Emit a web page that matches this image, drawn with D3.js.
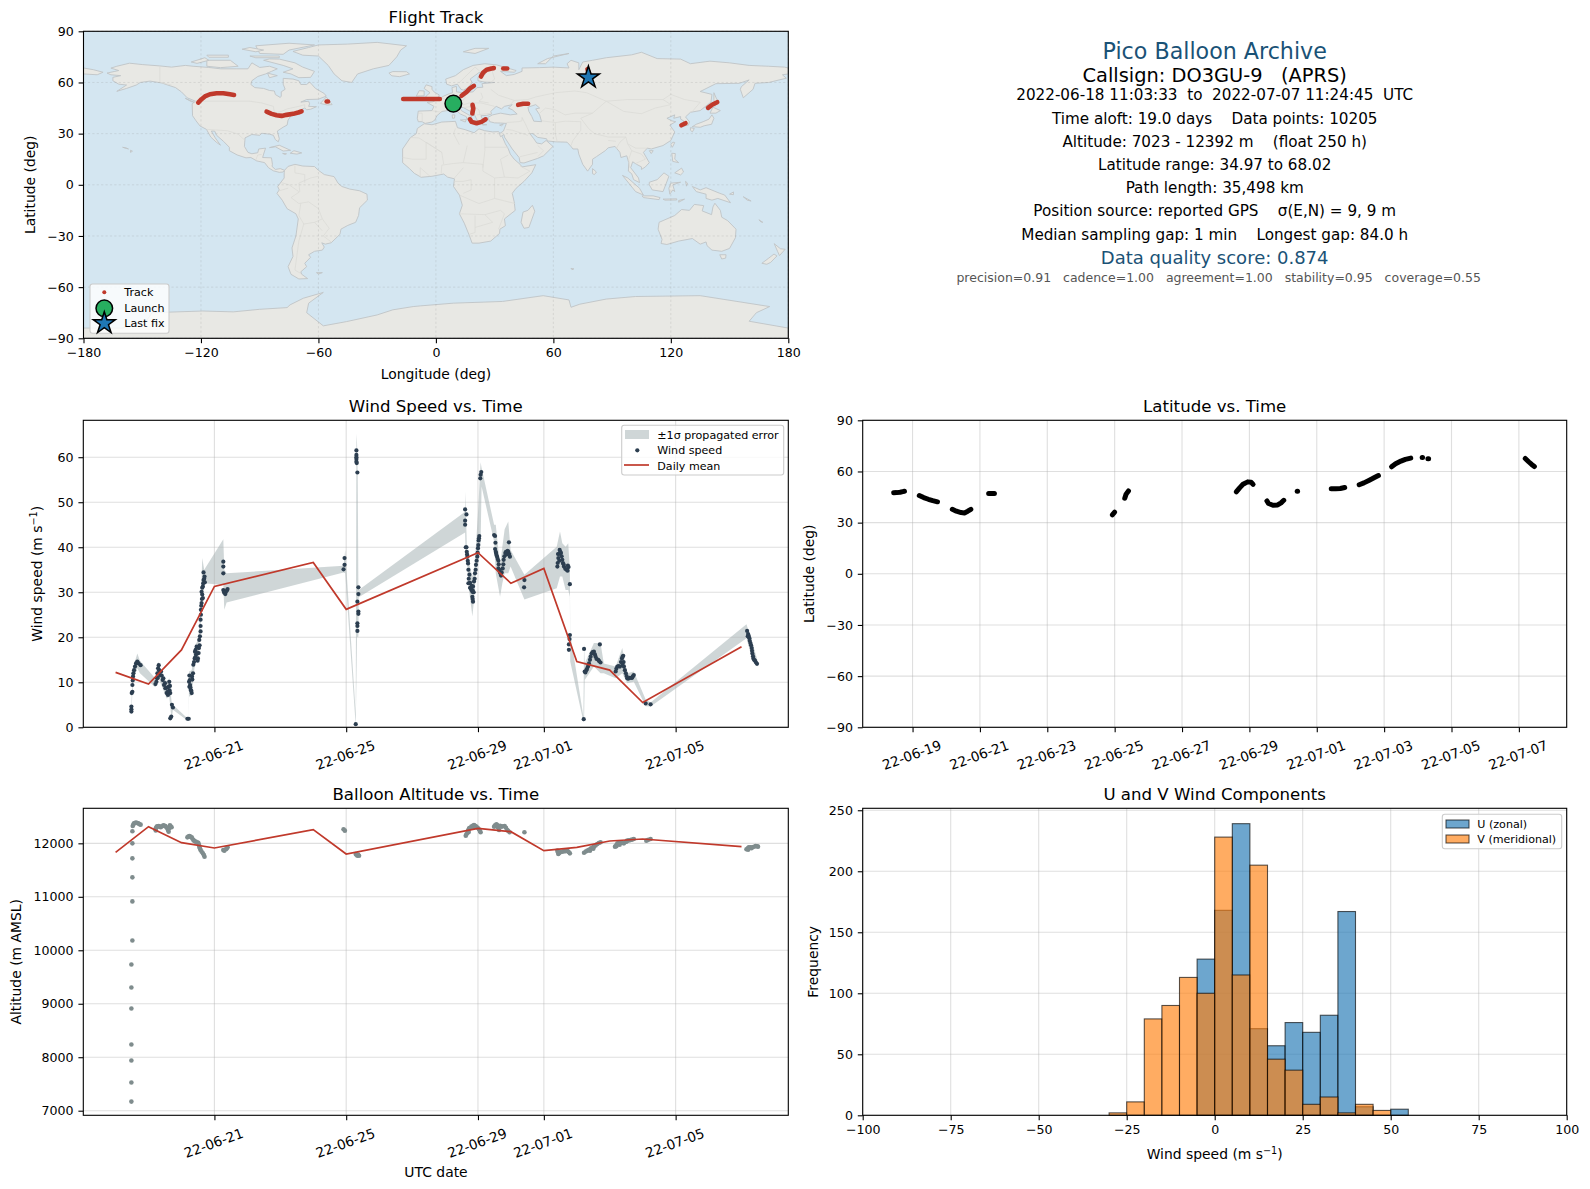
<!DOCTYPE html>
<html>
<head>
<meta charset="utf-8">
<script src="https://cdn.jsdelivr.net/npm/d3@7"></script>
<style>
  body { margin: 0; background: #fff; }
  text { font-family: "DejaVu Sans", sans-serif; fill: #000; white-space: pre; }
  .domain { display: none; }
  .tick line { stroke: #000; stroke-width: 1.1; }
</style>
</head>
<body>
<svg id="chart" width="1590" height="1189"></svg>
<script>
// ---- coastline, rough lon/lat outlines ----
const northAmerica = [[-168,65.5],[-164,66.5],[-162,67],[-166,68.4],[-163,69.5],[-156.5,71.3],[-150,70.5],[-141,69.7],[-135,69],[-128,70],[-124,69.5],[-116,68.8],[-110,68],[-102,68],[-96,68],[-94,71.5],[-90,68.8],[-85,69.5],[-81,68],[-84,66.5],[-87,65],[-91,63.5],[-94,61],[-94.5,58.8],[-92.5,57],[-88,56.5],[-85,55.3],[-82.5,55],[-82,52.9],[-79.5,51.2],[-79,52],[-79,54.5],[-77,56],[-78,59],[-78,62.4],[-73,62],[-70,61],[-69,58.8],[-66,58.8],[-64.5,60.3],[-61.5,56.5],[-57,53.5],[-56,52],[-60,50.2],[-66,50],[-69,48.5],[-65,49],[-64.5,47.5],[-65,46],[-61,45.8],[-64,44.3],[-66,44],[-67,45],[-70,43.5],[-70.5,41.7],[-74,40.5],[-75.5,38],[-76,35],[-78,33.8],[-81,31.5],[-80,27],[-80.5,25.2],[-82,26.5],[-83,29],[-85,29.7],[-89,30.2],[-90,29],[-94,29.5],[-97.5,27.5],[-97.8,22.5],[-96,19],[-94,18.2],[-91,18.8],[-90.5,21],[-87,21.5],[-88,18],[-88.5,16],[-84,15.8],[-83.5,12],[-83.7,10.8],[-82,9],[-79.5,9.5],[-77.3,8.5],[-78,7.5],[-80,7.3],[-83,8.2],[-85.5,10],[-87.5,13],[-91.5,14],[-94.5,16],[-97,15.8],[-101.5,17.5],[-105.5,20],[-105.5,22],[-108.5,25.5],[-112,29],[-113,31.5],[-114.7,31.5],[-112.7,27.5],[-110,23.2],[-112.2,25],[-115,28],[-117.2,32.5],[-120.5,34.5],[-122.5,37.5],[-124.3,40.5],[-124.5,47.5],[-122.8,49],[-127,51],[-130,54.5],[-133,57],[-137,58.5],[-140,59.7],[-146,60.8],[-151,60],[-153,58.5],[-158,56.5],[-163,54.8],[-158,58.5],[-162,59],[-165,61],[-165,63],[-161,64],[-166,64.5]];
const southAmerica = [[-77.3,8.5],[-75.5,10.8],[-72,12],[-68,11],[-62,10.7],[-60,8.5],[-57,6],[-52,4.8],[-50,1],[-48,-1],[-44,-2.5],[-39,-3.5],[-35.2,-5.5],[-35,-9],[-39,-13.5],[-39.5,-18],[-41,-22],[-45,-23.8],[-48.5,-26],[-49,-29],[-53.5,-34],[-56.5,-34.8],[-58.3,-34],[-57,-36.5],[-58,-38.3],[-62,-39],[-65,-41],[-64,-42.5],[-67,-46],[-66,-48],[-69,-51],[-68.5,-52.5],[-65.5,-55],[-70,-55.2],[-74,-52.5],[-75.5,-48],[-73,-42],[-73.5,-37],[-71.5,-30],[-70.3,-20],[-71.5,-17],[-76,-14],[-78.5,-9],[-81.2,-5],[-80,-3],[-80.8,-1],[-79.5,1],[-77.5,4],[-77.5,7]];
const africa = [[-6,35.8],[-2,35.2],[3,36.8],[10,37.2],[11,33.5],[15,32.3],[19.5,30.5],[22,32.8],[25,31.7],[29,31],[32,31.2],[34,28],[35.5,24],[37,21],[38,18],[40,15],[43,12],[44,10.5],[51,11.8],[49,7],[45,2],[41,-2],[39,-5],[40,-10],[40.5,-15],[35,-20],[35.5,-24],[32.7,-26],[32.5,-28.5],[28,-33],[22,-34.2],[18.5,-34.2],[17,-29.5],[14.5,-22.5],[12,-17],[13.5,-12],[12,-6],[9,-1],[9.5,3.5],[6,4.5],[4,6.3],[-2,5],[-7.5,4.4],[-11,6.7],[-13.5,9.5],[-17,13],[-17,21],[-13,27.7],[-10,30],[-9.5,33]];
const eurasia = [[-9,37],[-9.5,39],[-9,43.2],[-2,43.5],[-1,46],[-4.5,48.3],[-1.5,48.7],[1.5,50.3],[4,52],[7,53.5],[8.5,54],[8.2,57],[10.5,57.7],[10.5,54.5],[14,54],[19,54.5],[21,57],[24,57.2],[23.5,59.3],[30,60],[25,60.2],[21.5,61],[21.5,63],[25.3,65],[22,65.8],[17.5,62],[18.5,60],[16.5,57],[14,55.5],[12.8,56],[11,59],[8,58],[5.5,59],[5,62],[10,64],[14,67.5],[19,70],[25,71],[31,70.3],[41,67],[40,66],[33,66.5],[36,64],[40,64.7],[44,66.5],[44,68.5],[53,68.7],[60,69],[68,68.5],[67,71],[69,73],[73,71.5],[73,67.5],[75,72],[80,73],[87,74.5],[100,76.2],[105,77.7],[113,74],[125,73.7],[130,71],[140,72.5],[150,71.5],[160,70],[170,69.5],[178,69],[180,68.5],[180,65],[177,64.5],[179,62.5],[170,60],[163,59.5],[162,56],[157,51],[155.5,56],[156,57.5],[160,61.5],[155,59.5],[143,59.3],[135,54.7],[141,53],[140.5,48.5],[135,43.5],[130,42.5],[127.5,39.8],[129.5,37],[129,35],[126.5,34.5],[126.5,37.5],[125,38.5],[125,40],[121.5,39],[122,41],[118,39],[120.5,37.5],[122.5,37],[119.5,35],[122,31],[120,26],[116,23],[110,21],[108,21.5],[106,19],[109,13],[107,10.5],[105,9],[105,10.5],[102.5,12],[100.5,13.5],[99.5,10],[103.5,4],[104,1.3],[101,3],[100,6.5],[98.3,8],[98.5,13],[97.5,17],[94.5,16],[94,19],[91.5,22.5],[88,21.7],[86.5,20],[82,16.5],[80,15],[80,12],[77.5,8],[75,12],[73,18],[72.5,21],[70,21],[69,22.5],[67,25],[61,25.2],[57,25.7],[56.5,27],[52,27.8],[49.5,30],[48,30],[50,27],[51.5,24.5],[54,24],[56.3,26],[59.8,22.5],[55,17],[52,15.5],[45,12.8],[43,13],[42.5,16],[39,21],[35,28],[34.8,29.5],[33,28.2],[32.5,30],[34.5,31.5],[36,36],[33,36.2],[30,36.3],[27.5,37],[26.5,39.5],[29,41],[33,42],[38,41],[41.5,41.5],[39,44],[37,45],[39,47],[35,46],[33.5,44.5],[30.8,46],[28,43],[28.5,41.5],[26,40.7],[23,40.5],[24,38],[22.5,36.6],[21,38],[19.5,41.5],[18.5,42.5],[14,45.3],[12.3,45.3],[13,43.5],[16,41.5],[18.5,40],[16.5,39.5],[16,38],[15.5,40],[12.5,41.5],[10,44],[7,43.7],[3,43],[0.5,40.5],[-0.5,38],[-2,36.8],[-5.5,36],[-7,37]];
const australia = [[114,-22],[113.5,-26],[115.5,-32],[115,-34.4],[118,-35],[124,-33],[131,-31.5],[135,-34.8],[138,-33.5],[138.5,-35.7],[141,-38.3],[146,-39],[150,-37.3],[153,-31],[153.3,-26],[149,-21],[146,-19],[145.3,-15],[142.5,-10.8],[141.5,-13],[140.8,-17.5],[136,-15.3],[136.8,-12.2],[132,-11.5],[129.5,-15],[125.5,-14.5],[122,-18],[117,-20.5]];
const antarctica = [[-180,-90],[-180,-84],[-160,-84],[-148,-80],[-145,-75],[-119,-74],[-103.5,-74.5],[-90,-73],[-76,-72],[-74.5,-70.4],[-67.7,-66.5],[-57.5,-63.1],[-65,-69.4],[-66,-75],[-57.5,-82.7],[-45.6,-80.2],[-30,-76.3],[-22,-73.3],[-11.6,-71.4],[-8,-71],[8.9,-69.4],[34,-68.4],[54.8,-65],[68,-67.5],[69,-71.8],[73.5,-70],[87,-67],[102,-65.5],[135,-65],[170.5,-71.4],[163.7,-75],[160,-80],[180,-84],[180,-90]];
const greenland = [[-73,78.2],[-68,76],[-60,75.5],[-55,70],[-52,65],[-48,61],[-43,60],[-40,65],[-32,68],[-24,70],[-20,75],[-18,79],[-15,81.5],[-30,83.5],[-45,82.5],[-60,82],[-65,80.5]];
const chukotkaWest = [[-180,68.5],[-175,67.5],[-170,66],[-173,64.5],[-180,65]];
const islands = [
  [[-80,73.7],[-72,71.5],[-68,69],[-62,66.5],[-64,63],[-70,62.8],[-74,65],[-78,66],[-73,68],[-78,70],[-88,73],[-85,73.8]],
  [[-117,73],[-105,73],[-101,69.5],[-110,68.7],[-117,69.5]],
  [[-90,77],[-78,76.5],[-75,79],[-62,82],[-75,83],[-92,81.5]],
  [[-125,72],[-118,74.5],[-116,73],[-122,71.2]],
  [[-95,75.5],[-80,75.5],[-80,74.5],[-92,74.5]],
  [[-117,76],[-106,76],[-106,74.8],[-116,74.8]],
  [[-95,80.5],[-88,79],[-92,78],[-99,79.5]],
  [[-86,65.5],[-81,64],[-85,62.8]],
  [[-59,47.7],[-56,51.5],[-53,47],[-55.5,46.8]],
  [[-85,21.8],[-80,23.2],[-74.2,20.2],[-78,19.8],[-82,22.3]],
  [[-74.4,18.5],[-72.5,20],[-68.5,18.7],[-71,18]],
  [[-78.3,18.4],[-76.3,18.2],[-77,17.8]],
  [[-128,50.7],[-123.5,48.4],[-125,48.8]],
  [[-156,19],[-155,19.7],[-156,20.3]],
  [[-160,22],[-158,21.5],[-157,21]],
  [[-24,65.5],[-22,66.4],[-15,66.3],[-13.5,65],[-18.5,63.4],[-22.5,63.9]],
  [[-5.5,50],[1.3,51.2],[1.7,52.7],[-1,54.5],[-2,56],[-2,57.6],[-5,58.6],[-6,56.5],[-3,54],[-5,52]],
  [[-10,52],[-6,52.2],[-6,55],[-8.5,55.2]],
  [[14,78],[20,80],[27,80],[20,77]],
  [[52,71],[57,74],[68,77],[60,75.5],[56,71]],
  [[12.5,38],[15.5,38.2],[15,36.8]],
  [[8.3,41],[9.7,41],[9.5,39.1],[8.5,39]],
  [[23.5,35.5],[26,35.2],[24,35]],
  [[32.5,35],[34.5,35.6],[33.5,34.6]],
  [[80,9.5],[82,7.5],[81,6],[80,6.5]],
  [[130.9,34],[133,35.5],[136.5,37],[139.5,38.5],[141,41],[142,39],[140.8,35.5],[137,34.6],[135,33.7],[132,34]],
  [[140,42],[141.5,45.5],[145.3,43.5],[143,42]],
  [[130,33.5],[132,33],[131,31],[130,32]],
  [[142,54],[143.5,50],[142.5,46],[142,50]],
  [[121,25],[122,24.8],[120.8,22],[120,23.5]],
  [[109,20],[111,20],[110,18.3]],
  [[120.5,18.5],[122.3,18.3],[122,15],[124,13],[121,13.7]],
  [[122,7],[125.5,9.8],[126.5,7.5],[125,5.8]],
  [[109,1.5],[113,3],[116.5,7],[119,5],[117.7,1],[116,-4],[110.5,-3],[109,0]],
  [[95.3,5.5],[98,4],[104,-2],[106,-6],[102,-4],[98.5,1]],
  [[105.3,-6.5],[111,-6.5],[114.5,-7.5],[114,-8.7],[106,-7.5]],
  [[119.5,-5.5],[119,-2],[120,1],[125,1.5],[121,0],[122,-4],[121,-3]],
  [[131,-1],[135,-3],[138,-1.7],[145,-5],[147.5,-6],[150.5,-10.5],[144,-8],[141,-9],[138,-8],[138,-5.5],[133,-4]],
  [[116,-8.4],[123,-8.2],[123,-8.9],[117,-9]],
  [[124,-9.2],[127,-8.4],[124,-10.2]],
  [[127.5,2],[128.5,1],[128,-0.8]],
  [[150,-5.5],[152,-4.2],[152,-5.8]],
  [[157,-7],[161,-9.5],[159,-9]],
  [[165,-20.5],[167,-22],[166,-21.8]],
  [[145,-41],[148.2,-41],[148,-43],[146,-43.5]],
  [[172.8,-34.5],[176,-37.5],[178.4,-37.8],[175.5,-41.5],[174.5,-39]],
  [[172.7,-40.6],[174.2,-41.7],[171,-45.5],[169,-46.6],[166.5,-46],[170,-43]],
  [[49.3,-12],[50.5,-15.5],[47.5,-25],[45,-25.5],[43.5,-22],[44.5,-16],[47,-15]],
  [[69,-49],[70.5,-49.3],[69.5,-49.8]],
  [[-61,-51.5],[-58,-51.5],[-60,-52.3]]
];
const caspianSea = [[47,45.5],[51,47],[53,45],[51,44.5],[53,41],[54,37],[50,37.3],[49,40],[47.5,43]];
const borders = [
  [[-123,49],[-95,49],[-89,48],[-83,46],[-82.5,42],[-79,43],[-76,44.5],[-70,46],[-67,47],[-67,45]],
  [[-141,69.7],[-141,60],[-135,58.5]],
  [[-117,32.5],[-106.5,31.7],[-101,29.7],[-97.5,26]],
  [[-92,14.5],[-91,17.5],[-89,17.8]],
  [[-60,5],[-64,4],[-70,1],[-69.5,-4],[-74,-7.5],[-70,-11],[-65,-10],[-60,-14],[-58,-20],[-54.5,-25.5],[-57.5,-30],[-53.5,-33.5]],
  [[-72,11.5],[-72,7],[-67,6],[-67,1.2]],
  [[-79,1.3],[-75,0],[-70,-4]],
  [[-80,-3.5],[-75.5,-2]],
  [[-70,-18],[-69,-11]],
  [[-70,-18],[-67.5,-23],[-70,-33],[-72,-50],[-69,-52]],
  [[-67.5,-23],[-62,-22],[-58,-20]],
  [[-62,-22],[-58,-27]],
  [[-8.7,27.5],[-13,27.7]],
  [[-8.7,27.5],[3,19],[4,12]],
  [[-17,16],[-12,15],[-5,15],[-5,25],[3,19]],
  [[12,23.5],[9,30],[10,33]],
  [[25,31.7],[25,20],[24,10]],
  [[25,22],[37,22]],
  [[16,23],[14,13],[9,12.5],[3,11.5],[2.7,6.5]],
  [[14,13],[24,12],[24,8],[30,4],[35,4.5],[42,4],[48,8],[43,11]],
  [[35,4.5],[33,15],[37,17.5]],
  [[30,4],[30,-8],[22,-11],[12,-6]],
  [[40.5,-11],[30,-8]],
  [[12,-17],[25,-17.5],[33,-15],[35,-17],[32,-26]],
  [[20,-18],[20,-28],[17,-29]],
  [[25,-17.5],[29,-22],[20,-25]],
  [[14,2],[18,3],[18,-3],[14,-5]],
  [[9,2],[14,2]],
  [[9.5,4],[14,10]],
  [[-8,4.5],[-8,10],[-3,5]],
  [[-9,42],[-7,42],[-7,37]],
  [[-2,43.4],[3,42.5]],
  [[2.5,51],[8,49],[7,44]],
  [[7,53.5],[6,51],[8,49]],
  [[14,54],[15,51],[13,48.5],[9.5,47.5],[7,47.5]],
  [[13,46.5],[17,48],[23,48],[30,46]],
  [[23,54],[24,51],[22,49],[27,48]],
  [[28,56],[32,52.5],[40,49.5],[38,47]],
  [[28,69.5],[30,62],[28,60]],
  [[12,60],[20,69]],
  [[23,66],[20,69]],
  [[21,41],[26,41.7],[28.5,42]],
  [[14,45.3],[19,46],[22,44],[22.5,41]],
  [[40,49.5],[47,50],[51,51.5],[61,54],[71,55],[77,54],[87,49],[98,50],[106,50],[116,50],[120,53],[127,50],[135,48.4],[131,43],[130,42.5]],
  [[87,49],[96,43],[105,41.7],[112,45],[120,47],[116,50]],
  [[87,49],[80,42],[74,39],[78,33],[81,30],[88,28],[97,28],[98,24],[102,21.5],[108,21.5]],
  [[53,42],[56,45],[61,44],[66,41],[71,42],[80,42]],
  [[44,39.5],[46,35],[48,30]],
  [[61,36.5],[61,30],[62,25]],
  [[54,37.5],[61,36.5],[66,37.3],[74,37]],
  [[74,37],[74,32],[70,26],[69,23]],
  [[36,32.5],[39,32],[47,29]],
  [[36,36.5],[42,37],[44,37.5],[44,39.5]],
  [[52,16.5],[55,20],[52,23]],
  [[43,16.5],[52,19]],
  [[92,21],[94,25],[97,28]],
  [[88,26],[92,25.5]],
  [[98,24],[100,20],[98.5,15],[99,10]],
  [[100,20],[105,18],[107,15],[102,12.5]]
];

// ---- track on the map, one list per stretch of fixes ----
const trackSegments = [
  [[-121.4,48.2],[-119.7,50.2],[-118,51.8],[-115.4,53.1],[-112,53.7],[-108.6,53.7],[-105.2,53.1],[-103.1,52.7]],
  [[-86.5,42.9],[-83.9,41.6],[-81.4,40.8],[-78.8,40.4],[-76.3,41],[-72.9,41.6],[-70.3,42.4],[-68.6,43.1]],
  [[-55.8,48.8],[-55.1,48.8]],
  [[-16.7,50.3],[-10,50.3],[-5,50.3],[2,50.3]],
  [[13.1,52.2],[15.7,54.5],[17.4,56.5],[19.4,58]],
  [[23,63.5],[24.2,65.9],[25.9,67.5],[28.4,68.2],[29.6,68.4]],
  [[34.4,68.2],[36.4,68.2]],
  [[18.7,46.9],[19.1,44.7],[18.6,41.8]],
  [[17.4,38.4],[18.2,36.9],[20.8,36.1],[23.3,36.9],[25.4,38.4]],
  [[42,46.9],[44.6,47.5],[47.1,47.5]],
  [[125.4,34.9],[127.5,36.1]],
  [[139,45.1],[141.3,47.1],[143.7,48.4]],
  [[77.4,67.8],[78,65.9],[78.8,63.5]]
];
const launchFix = [8.9, 47.6];
const lastFix = [77.9, 62.9];

// ---- wind speed panel: day counted from 1 June, so 1 July is 31 ----
const windPoints = [
  [18.48,3.5],[18.48,4],[18.48,4.6],[18.49,7.6],[18.51,7.9],[18.51,9.4],[18.52,10.4],[18.53,11.3],[18.54,12],[18.56,12.7],[18.59,13.5],[18.62,14.2],[18.66,14.6],[18.7,14.2],[18.76,13.8],
  [19.21,9.6],[19.24,10.1],[19.26,10.9],[19.27,12],[19.29,13.1],[19.32,12.7],[19.35,11.6],[19.4,11.5],[19.43,10.5],[19.47,9.4],[19.51,8.7],[19.55,7.6],[19.59,7.2],[19.63,10.1],[19.66,7.6],[19.71,5],[19.74,4.4],[19.69,2.4],[19.66,2],
  [19.28,11],[19.31,13.8],[19.38,12.4],[19.45,10.9],[19.5,9.8],[19.56,8.8],[19.61,9],[19.64,8.2],[19.65,9.2],[19.58,7.9],
  [20.18,1.9],[20.22,1.9],[20.23,10.1],[20.24,11.5],[20.26,9.4],[20.28,8.3],[20.31,7.6],[20.32,11.3],[20.35,12],[20.36,13.9],[20.4,15.3],[20.41,16.8],[20.44,16.1],[20.46,17.9],[20.5,15.3],[20.53,17.6],[20.54,19.4],[20.58,21.3],[20.58,23.9],[20.59,26.1],[20.61,27.6],[20.65,28.7],[20.61,30.1],[20.65,31.3],[20.67,32.7],[20.7,33.5],[20.67,34.4],
  [20.24,9],[20.25,10.5],[20.27,8.9],[20.3,8.1],[20.33,10.6],[20.38,14.5],[20.42,15.5],[20.43,17.2],[20.47,16.5],[20.49,14.8],[20.52,16.5],[20.55,18.2],[20.56,20.2],[20.58,22.5],[20.59,25],[20.6,27],[20.63,29.5],[20.63,31],[20.66,32],[20.69,33],[20.71,32.2],[20.62,28.5],
  [21.27,36.8],[21.27,35.7],[21.27,34.2],[21.27,30.5],[21.3,29.9],[21.35,30.1],[21.4,30.7],[21.29,30.1],[21.33,29.6],[21.38,30.4],
  [24.95,37.6],[24.95,36.1],[24.92,35.1],
  [25.31,61.5],[25.31,60.5],[25.31,59.6],[25.32,58.7],[25.34,56.6],[25.29,0.7],[25.37,31.1],[25.37,29.6],[25.34,27.9],[25.37,25.7],[25.37,25.2],[25.34,23.1],[25.34,22.5],[25.34,21.4],[25.31,60],[25.31,59],
  [28.61,48.4],[28.65,47.3],[28.61,45.9],[28.61,45],[28.63,40],[28.66,39],[28.68,37.9],[28.7,36.4],[28.71,35],[28.74,33.9],[28.71,32],[28.76,32.1],[28.78,30.9],[28.83,30.1],[28.85,31.3],[28.83,29],[28.85,27.9],[28.88,32.4],[28.91,34.2],[28.94,36.1],[28.98,37.9],[29,39.8],[29.02,41.5],[29.04,42.5],
  [28.65,40],[28.67,38.4],[28.69,37],[28.72,33],[28.74,32],[28.76,31],[28.8,30.5],[28.81,31.4],[28.84,30.4],[28.84,28.5],[28.87,30],[28.9,33],[28.93,35],[28.96,37],[28.99,38.8],[29.01,40.5],[29.03,42],
  [29.07,55.3],[29.08,56.1],[29.1,56.7],[29.49,42.7],[29.52,42.5],[29.52,39.6],[29.55,38.7],[29.58,37.9],[29.62,37],[29.62,35.3],[29.66,34.6],[29.7,33.7],[29.75,35.3],[29.78,37.2],[29.83,38.7],[29.9,39.2],[29.97,37.9],[29.94,41.1],
  [29.53,41],[29.54,39],[29.56,38.3],[29.6,37.4],[29.63,36.2],[29.65,35],[29.68,34.2],[29.72,34.4],[29.77,36.2],[29.8,38],[29.85,39],[29.87,38.4],[29.92,39],[29.95,38.5],
  [30.41,32.7],[30.4,31.1],
  [31.41,35.7],[31.44,37.6],[31.48,39.4],[31.52,38.7],[31.56,37.2],[31.61,35.7],[31.69,35],[31.75,35.6],[31.79,31.8],[31.79,20.5],[31.78,19.6],[31.76,18.4],[31.76,17.2],
  [31.42,36.5],[31.43,38.5],[31.46,38.5],[31.47,37],[31.5,39],[31.54,38],[31.58,36.5],[31.6,36.2],[31.65,35.2],[31.72,34.8],[31.73,35.9],
  [32.21,1.8],[32.22,17.4],[32.24,12.4],[32.29,12.7],[32.34,13.5],[32.4,15],[32.45,16.4],[32.52,16.8],[32.57,15.7],[32.65,15],[32.72,14.4],[32.7,18.4],
  [32.26,12.2],[32.31,13],[32.37,14.2],[32.42,15.7],[32.48,16.7],[32.55,16.2],[32.6,15.2],[32.68,14.7],
  [33.18,12.4],[33.23,13.5],[33.31,13.5],[33.37,15.3],[33.41,15.9],[33.43,13.5],[33.49,12],[33.53,10.9],[33.61,11],[33.68,11],[33.73,11.6],
  [33.2,13],[33.27,13.6],[33.34,14.5],[33.39,15.7],[33.42,14.5],[33.46,12.7],[33.51,11.4],[33.56,10.8],[33.65,11],[33.7,11.3],[33.39,13.8],
  [34.09,5.3],[34.24,5.1],
  [37.17,21.4],[37.2,20.7],[37.24,19.8],[37.27,18.7],[37.31,17.6],[37.33,16.4],[37.36,15.3],[37.41,14.8],[37.47,14.1],
  [37.19,20.2],[37.22,20.3],[37.25,19.2],[37.29,18.2],[37.32,17],[37.35,15.8],[37.38,15],[37.44,14.4]
];
const bandDay = [18.48,18.51,18.54,18.66,18.74,19.2,19.27,19.3,19.35,19.45,19.55,19.63,19.7,19.74,20.18,20.22,20.23,20.31,20.41,20.51,20.59,20.63,20.69,21.27,21.3,21.37,24.92,24.97,25.29,25.31,25.33,25.35,25.37,25.38,28.61,28.62,28.66,28.73,28.83,28.88,28.93,29,29.08,29.11,29.49,29.54,29.67,29.74,29.81,29.92,29.99,30.41,31.39,31.49,31.56,31.66,31.74,31.79,31.8,32.2,32.22,32.24,32.52,32.72,32.82,33.18,33.38,33.53,33.73,34.09,34.24,37.15,37.33,37.48];
const bandHigh = [5,11.3,13.5,16.4,14.8,10.9,13.5,14.6,13.1,11.3,10.1,10.9,5.7,5,2,2,12.4,12.7,18.3,19.4,27.6,37.6,35,41.8,35,34.2,35.9,39.4,3,65.2,63,56,31.6,30.5,47.9,52.4,40.9,36.4,33.5,35,39.4,47.6,58.9,57.6,45,45,35.7,40.1,44,45.7,39.4,33.9,40.1,43.5,40.9,40.1,40.9,35,20.9,2.4,18.7,14.2,18.7,18.7,14.2,13.5,17.6,12,12.4,6.2,5.5,22.9,18.7,15];
const bandLow = [3.1,7.6,10.5,13.1,12,8.9,10.5,11.3,10.1,8.3,6.4,6.8,1.6,3.9,1.5,1.5,6.8,7.2,14.2,15,23.1,27.6,32,31.6,26.1,27.7,34.4,34.2,0.3,10,20,20.1,20.1,28.9,43.3,39.8,37.2,30.5,24.6,28.3,33.5,37.2,40.9,53.5,41.3,34.2,29,32,34.2,34.2,35.7,28.4,30.9,33.5,33.5,30.5,30.5,29,14.6,1.3,1.3,10.5,13.5,12,12,10.9,12,9.8,10.1,4.7,4.6,19.8,15,13.5];
const meanDays = [18,19,20,21,24,25,29,30,31,32,33,34,37];
const windDailyMean = [12.2,9.6,17.2,31.3,36.6,26.2,38.8,32,35.3,14.6,12.7,5.5,17.9];

// ---- altitude panel ----
const altPoints = [
  [18.48,7170],[18.48,7526],[18.48,7938],[18.48,8237],[18.48,8911],[18.48,9304],[18.48,9735],[18.51,10184],[18.51,10914],[18.51,11364],[18.51,11719],[18.51,12000],[18.51,12225],
  [18.52,12324],[18.56,12374],[18.62,12387],[18.69,12374],[18.76,12349],[18.54,12350],[18.59,12380],[18.65,12380],[18.72,12360],
  [19.21,12262],[19.25,12312],[19.31,12324],[19.37,12300],[19.45,12337],[19.51,12324],[19.57,12281],[19.61,12218],[19.65,12337],[19.7,12300],
  [19.23,12290],[19.28,12320],[19.34,12312],[19.41,12320],[19.48,12330],[19.54,12300],[19.59,12250],[19.63,12280],[19.67,12320],[19.22,12240],
  [20.18,12112],[20.24,12137],[20.31,12112],[20.36,12062],[20.43,12031],[20.51,12012],[20.54,11938],[20.58,11875],[20.65,11813],[20.7,11750],
  [20.21,12125],[20.27,12125],[20.33,12090],[20.39,12045],[20.47,12020],[20.53,11975],[20.56,11905],[20.61,11845],[20.68,11780],
  [21.27,11875],[21.35,11888],[21.4,11925],[21.3,11860],[21.37,11905],[24.92,12262],[24.96,12237],[25.29,11800],[25.34,11769],[25.39,11769],[25.31,11785],[25.36,11790],
  [28.63,12144],[28.68,12200],[28.73,12281],[28.8,12312],[28.88,12343],[28.95,12312],[29.03,12262],[29.08,12206],
  [28.65,12170],[28.7,12240],[28.76,12290],[28.84,12330],[28.91,12330],[28.99,12290],[29.06,12230],[28.72,12210],[28.88,12300],
  [29.49,12312],[29.56,12356],[29.64,12250],[29.71,12312],[29.81,12324],[29.89,12250],[29.96,12206],[30.41,12206],
  [29.52,12335],[29.6,12300],[29.67,12330],[29.76,12318],[29.85,12290],[29.92,12230],[29.58,12340],
  [31.41,11863],[31.44,11800],[31.51,11838],[31.61,11850],[31.71,11863],[31.79,11813],[31.47,11820],[31.56,11845],[31.66,11855],[31.75,11840],[31.43,11830],
  [32.22,11825],[32.32,11863],[32.42,11900],[32.52,11938],[32.62,11988],[32.72,12019],[32.27,11845],[32.37,11880],[32.47,11920],[32.57,11960],[32.67,12005],[32.4,11860],[32.5,11900],
  [33.16,11938],[33.23,12000],[33.33,12012],[33.43,12000],[33.53,12050],[33.63,12062],[33.73,12081],[34.11,12050],[34.24,12081],
  [33.2,11970],[33.28,12005],[33.38,12005],[33.48,12025],[33.58,12055],[33.68,12070],[33.2,11945],[33.3,11975],[33.5,12030],[34.17,12065],
  [37.15,11888],[37.22,11925],[37.33,11925],[37.43,11950],[37.5,11938],[37.19,11905],[37.27,11925],[37.38,11935],[37.47,11945],[37.2,11880],[37.3,11910]
];
const altDailyMean = [11832,12312,12012,11913,12256,11800,12281,12218,11863,11925,12044,12081,11938];

// ---- latitude panel, stretches of fixes ----
const latSegments = [
  [[18.44,47.5],[18.53,47.6],[18.63,47.8],[18.71,48.2],[18.76,48.4]],
  [[19.2,45.9],[19.33,44.7],[19.47,43.7],[19.6,42.9],[19.74,42.2]],
  [[20.18,37.8],[20.3,36.7],[20.44,35.9],[20.54,35.7],[20.64,36.7],[20.73,37.8]],
  [[21.26,47.1],[21.34,47.1],[21.43,47.1]],
  [[24.93,34.5],[25,36.1]],
  [[25.3,44.3],[25.34,46.7],[25.41,48.6]],
  [[28.61,48],[28.71,50.4],[28.81,52.5],[28.95,53.9],[29.05,53.7],[29.11,52.4]],
  [[29.52,42.7],[29.57,41.2],[29.7,40.2],[29.84,40.4],[29.94,41.6],[30.02,43.1]],
  [[30.42,48.4],[30.43,48.4]],
  [[31.43,49.8],[31.56,49.8],[31.7,50],[31.83,50.6]],
  [[32.26,52.2],[32.4,53.3],[32.56,54.9],[32.7,56.3],[32.83,57.6]],
  [[33.22,62.7],[33.34,64.5],[33.5,66.1],[33.63,67.1],[33.79,67.8]],
  [[34.13,68.2],[34.14,68.2]],
  [[34.3,67.5],[34.32,67.5]],
  [[37.19,67.6],[37.29,65.7],[37.38,64.1],[37.46,62.9]]
];

// ---- histogram ----
const binEdges = [-30,-25,-20,-15,-10,-5,0,5,10,15,20,25,30,35,40,45,50,55];
const uCounts = [0,0,0,0,0,128,168,239,71,57,76,68,82,167,7,0,5];
const vCounts = [2,11,79,90,113,100,228,115,205,46,37,9,15,2,9,4,0];

// ---- info block ----
const infoLines = [
  "Pico Balloon Archive",
  "Callsign: DO3GU-9   (APRS)",
  "2022-06-18 11:03:33  to  2022-07-07 11:24:45  UTC",
  "Time aloft: 19.0 days    Data points: 10205",
  "Altitude: 7023 - 12392 m    (float 250 h)",
  "Latitude range: 34.97 to 68.02",
  "Path length: 35,498 km",
  "Position source: reported GPS    σ(E,N) = 9, 9 m",
  "Median sampling gap: 1 min    Longest gap: 84.0 h",
  "Data quality score: 0.874",
  "precision=0.91   cadence=1.00   agreement=1.00   stability=0.95   coverage=0.55"
];
const infoBaselines = [59.3, 81.7, 100.3, 123.5, 146.7, 169.9, 193.1, 216.3, 239.5, 263.9, 281.6];
const infoSizes = [22.2, 19.4, 15.2, 15.2, 15.2, 15.2, 15.2, 15.2, 15.2, 18, 12.5];
const infoColours = ["#1a5276", "#000", "#000", "#000", "#000", "#000", "#000", "#000", "#000", "#1a5276", "#555"];

const RED = "#c0392b", NAVY = "#2c3e50", GREY = "#7f8c8d";

const svg = d3.select("#chart");
const toDate = day => new Date(Date.UTC(2022, 5, 1) + (day - 1) * 864e5);
const fmtDate = d3.utcFormat("%y-%m-%d");

function setupPanel(left, right, top, bottom, title) {
  const g = svg.append("g");
  g.append("text").attr("x", (left + right) / 2).attr("y", top - 8.3)
    .attr("text-anchor", "middle").attr("font-size", 16.6).text(title);
  return { g, left, right, top, bottom };
}

function drawGrid(p, xScale, yScale, xVals, yVals, dash) {
  const grid = p.g.append("g").attr("stroke", dash ? "#8a8a8a" : "#b0b0b0")
    .attr("stroke-opacity", dash ? 0.25 : 0.4).attr("stroke-width", dash ? 0.8 : 1.1)
    .attr("stroke-dasharray", dash ? "2.2,2.2" : null);
  grid.selectAll(".vg").data(xVals).enter().append("line").attr("class", "vg")
    .attr("x1", d => xScale(d)).attr("x2", d => xScale(d)).attr("y1", p.top).attr("y2", p.bottom);
  grid.selectAll(".hg").data(yVals).enter().append("line").attr("class", "hg")
    .attr("y1", d => yScale(d)).attr("y2", d => yScale(d)).attr("x1", p.left).attr("x2", p.right);
}

function drawFrame(p, xScale, yScale, xAxis, yAxis, rotate) {
  const gx = p.g.append("g").attr("transform", `translate(0,${p.bottom})`).call(xAxis.tickSize(4.9).tickPadding(4.9));
  gx.selectAll("text").attr("font-size", 12.6);
  if (rotate) {
    gx.selectAll("text").attr("y", 0).attr("dy", null).attr("text-anchor", "middle").attr("font-size", 13.6)
      .attr("transform", "translate(-1,28.5) rotate(-20)").attr("dominant-baseline", "middle");
  }
  const gy = p.g.append("g").attr("transform", `translate(${p.left},0)`).call(yAxis.tickSize(4.9).tickPadding(4.9));
  gy.selectAll("text").attr("font-size", 12.6);
  p.g.append("rect").attr("x", p.left).attr("y", p.top).attr("width", p.right - p.left).attr("height", p.bottom - p.top)
    .attr("fill", "none").attr("stroke", "#000").attr("stroke-width", 1.1);
}

function yLabel(p, x, text) {
  const t = p.g.append("text").attr("transform", `translate(${x},${(p.top + p.bottom) / 2}) rotate(-90)`)
    .attr("text-anchor", "middle").attr("font-size", 13.9);
  return t.text(text);
}

function windLabel(t) {
  t.text(null);
  t.append("tspan").text("Wind speed (m s");
  t.append("tspan").attr("font-size", 9.7).attr("dy", -5).text("−1");
  t.append("tspan").attr("dy", 5).text(")");
}

function legendBox(g, x0, y0, x1, y1) {
  g.append("rect").attr("x", x0).attr("y", y0).attr("width", x1 - x0).attr("height", y1 - y0).attr("rx", 2.5)
    .attr("fill", "#fff").attr("fill-opacity", 0.8).attr("stroke", "#ccc").attr("stroke-width", 1.1);
}

// ---- map ----
{
  const p = setupPanel(83.5, 788.3, 31.3, 338.3, "Flight Track");
  const x = d3.scaleLinear().domain([-180, 180]).range([p.left, p.right]);
  const y = d3.scaleLinear().domain([-90, 90]).range([p.bottom, p.top]);
  const line = d3.line().x(d => x(d[0])).y(d => y(d[1]));
  p.g.append("rect").attr("x", p.left).attr("y", p.top).attr("width", p.right - p.left).attr("height", p.bottom - p.top).attr("fill", "#d4e6f1");
  const land = [northAmerica, southAmerica, africa, eurasia, australia, antarctica, greenland, chukotkaWest, ...islands];
  p.g.selectAll(".land").data(land).enter().append("path").attr("class", "land")
    .attr("d", d => line(d) + "Z").attr("fill", "#e8e8e4").attr("stroke", "#bfc4c6").attr("stroke-width", 0.9).attr("stroke-linejoin", "round");
  p.g.append("path").attr("d", line(caspianSea) + "Z").attr("fill", "#d4e6f1").attr("stroke", "#bfc4c6").attr("stroke-width", 0.9);
  p.g.selectAll(".border").data(borders).enter().append("path").attr("class", "border")
    .attr("d", line).attr("fill", "none").attr("stroke", "#dadad6").attr("stroke-width", 0.7);
  const lonTicks = d3.range(-180, 181, 60), latTicks = d3.range(-90, 91, 30);
  drawGrid(p, x, y, lonTicks, latTicks, true);
  p.g.selectAll(".track").data(trackSegments).enter().append("path").attr("class", "track")
    .attr("d", line).attr("fill", "none").attr("stroke", RED).attr("stroke-width", 4.6).attr("stroke-linecap", "round").attr("stroke-linejoin", "round");
  p.g.append("circle").attr("cx", x(launchFix[0])).attr("cy", y(launchFix[1])).attr("r", 8.3)
    .attr("fill", "#27ae60").attr("stroke", "#000").attr("stroke-width", 1.5);
  const star = d3.symbol().type(d3.symbolStar).size(150);
  p.g.append("path").attr("d", star()).attr("transform", `translate(${x(lastFix[0])},${y(lastFix[1])})`)
    .attr("fill", "#1f77b4").attr("stroke", "#000").attr("stroke-width", 1.5);
  drawFrame(p, x, y, d3.axisBottom(x).tickValues(lonTicks), d3.axisLeft(y).tickValues(latTicks));
  p.g.append("text").attr("x", 436).attr("y", 378.5).attr("text-anchor", "middle").attr("font-size", 13.9).text("Longitude (deg)");
  yLabel(p, 35, "Latitude (deg)");
  const lg = p.g.append("g");
  legendBox(lg, 90, 284, 169, 333.3);
  lg.append("circle").attr("cx", 104.3).attr("cy", 292.3).attr("r", 2).attr("fill", RED);
  lg.append("circle").attr("cx", 104.3).attr("cy", 308.3).attr("r", 8.3).attr("fill", "#27ae60").attr("stroke", "#000").attr("stroke-width", 1.5);
  lg.append("path").attr("d", star()).attr("transform", "translate(104.3,323.3)").attr("fill", "#1f77b4").attr("stroke", "#000").attr("stroke-width", 1.5);
  [["Track", 296], ["Launch", 311.7], ["Last fix", 326.7]].forEach(([t, yy]) =>
    lg.append("text").attr("x", 124.3).attr("y", yy).attr("font-size", 11.1).text(t));
}

// ---- info ----
svg.append("g").selectAll("text").data(infoLines).enter().append("text")
  .attr("x", (d, i) => i === 10 ? 1218.7 : 1214.7).attr("y", (d, i) => infoBaselines[i]).attr("text-anchor", "middle")
  .attr("font-size", (d, i) => infoSizes[i]).style("fill", (d, i) => infoColours[i]).text(d => d);

const timeTicks = [21, 25, 29, 31, 35];
const timeDomain = [toDate(17.02), toDate(38.42)];

// ---- wind ----
{
  const p = setupPanel(83.3, 788.3, 420.3, 727.3, "Wind Speed vs. Time");
  const x = d3.scaleUtc().domain(timeDomain).range([p.left, p.right]);
  const y = d3.scaleLinear().domain([0, 68.2]).range([p.bottom, p.top]);
  const xt = timeTicks.map(toDate), yt = d3.range(0, 61, 10);
  const area = d3.area().x(d => x(toDate(d))).y0((d, i) => y(bandLow[i])).y1((d, i) => y(bandHigh[i]));
  p.g.append("path").attr("d", area(bandDay)).attr("fill", "#95a5a6").attr("fill-opacity", 0.45);
  drawGrid(p, x, y, xt, yt);
  p.g.selectAll(".pt").data(windPoints).enter().append("circle").attr("class", "pt")
    .attr("cx", d => x(toDate(d[0]))).attr("cy", d => y(d[1])).attr("r", 2.1).attr("fill", NAVY);
  const mean = d3.line().x(d => x(toDate(d))).y((d, i) => y(windDailyMean[i]));
  p.g.append("path").attr("d", mean(meanDays)).attr("fill", "none").attr("stroke", RED).attr("stroke-width", 1.7);
  drawFrame(p, x, y, d3.axisBottom(x).tickValues(xt).tickFormat(fmtDate), d3.axisLeft(y).tickValues(yt), true);
  windLabel(yLabel(p, 42, ""));
  const lg = p.g.append("g");
  legendBox(lg, 621.7, 425.3, 783.7, 475);
  lg.append("rect").attr("x", 625).attr("y", 430).attr("width", 24).attr("height", 9).attr("fill", "#95a5a6").attr("fill-opacity", 0.45);
  lg.append("circle").attr("cx", 637.3).attr("cy", 450.3).attr("r", 2.1).attr("fill", NAVY);
  lg.append("line").attr("x1", 624).attr("x2", 649).attr("y1", 465).attr("y2", 465).attr("stroke", RED).attr("stroke-width", 1.7);
  [["±1σ propagated error", 438.7], ["Wind speed", 454.3], ["Daily mean", 470]].forEach(([t, yy]) =>
    lg.append("text").attr("x", 657.3).attr("y", yy).attr("font-size", 11.1).text(t));
}

// ---- latitude ----
{
  const p = setupPanel(862.7, 1566.7, 420.3, 727.3, "Latitude vs. Time");
  const x = d3.scaleUtc().domain([toDate(17.52), toDate(38.42)]).range([p.left, p.right]);
  const y = d3.scaleLinear().domain([-90, 90]).range([p.bottom, p.top]);
  const xt = d3.range(19, 38, 2).map(toDate), yt = d3.range(-90, 91, 30);
  drawGrid(p, x, y, xt, yt);
  const line = d3.line().x(d => x(toDate(d[0]))).y(d => y(d[1]));
  p.g.selectAll(".seg").data(latSegments).enter().append("path").attr("class", "seg")
    .attr("d", line).attr("fill", "none").attr("stroke", "#000").attr("stroke-width", 5)
    .attr("stroke-linecap", "round").attr("stroke-linejoin", "round");
  drawFrame(p, x, y, d3.axisBottom(x).tickValues(xt).tickFormat(fmtDate), d3.axisLeft(y).tickValues(yt), true);
  yLabel(p, 814, "Latitude (deg)");
}

// ---- altitude ----
{
  const p = setupPanel(83.3, 788.3, 808.3, 1115.3, "Balloon Altitude vs. Time");
  const x = d3.scaleUtc().domain(timeDomain).range([p.left, p.right]);
  const y = d3.scaleLinear().domain([6914, 12655]).range([p.bottom, p.top]);
  const xt = timeTicks.map(toDate), yt = d3.range(7000, 12001, 1000);
  drawGrid(p, x, y, xt, yt);
  p.g.selectAll(".pt").data(altPoints).enter().append("circle").attr("class", "pt")
    .attr("cx", d => x(toDate(d[0]))).attr("cy", d => y(d[1])).attr("r", 2.3).attr("fill", GREY);
  const mean = d3.line().x(d => x(toDate(d))).y((d, i) => y(altDailyMean[i]));
  p.g.append("path").attr("d", mean(meanDays)).attr("fill", "none").attr("stroke", RED).attr("stroke-width", 1.7);
  drawFrame(p, x, y, d3.axisBottom(x).tickValues(xt).tickFormat(fmtDate), d3.axisLeft(y).tickValues(yt).tickFormat(d3.format("d")), true);
  yLabel(p, 21, "Altitude (m AMSL)");
  p.g.append("text").attr("x", 436).attr("y", 1177).attr("text-anchor", "middle").attr("font-size", 13.9).text("UTC date");
}

// ---- histogram ----
{
  const p = setupPanel(862.7, 1566.7, 808.3, 1115.3, "U and V Wind Components");
  const x = d3.scaleLinear().domain([-100, 100]).range([p.left, p.right]);
  const y = d3.scaleLinear().domain([0, 251.6]).range([p.bottom, p.top]);
  const xt = d3.range(-100, 101, 25), yt = d3.range(0, 251, 50);
  drawGrid(p, x, y, xt, yt);
  const bars = (counts, color) => p.g.append("g").selectAll("rect")
    .data(counts.map((c, i) => ({ c, i })).filter(d => d.c > 0)).enter().append("rect")
    .attr("x", d => x(binEdges[d.i])).attr("width", d => x(binEdges[d.i + 1]) - x(binEdges[d.i]))
    .attr("y", d => y(d.c)).attr("height", d => y(0) - y(d.c))
    .attr("fill", color).attr("fill-opacity", 0.65).attr("stroke", "#000").attr("stroke-opacity", 0.65).attr("stroke-width", 1.1);
  bars(uCounts, "#1f77b4");
  bars(vCounts, "#ff7f0e");
  drawFrame(p, x, y, d3.axisBottom(x).tickValues(xt), d3.axisLeft(y).tickValues(yt));
  const xl = p.g.append("text").attr("x", 1214.7).attr("y", 1159).attr("text-anchor", "middle").attr("font-size", 13.9);
  windLabel(xl);
  yLabel(p, 818, "Frequency");
  const lg = p.g.append("g");
  legendBox(lg, 1442.3, 814.3, 1561.7, 848.7);
  [["U (zonal)", "#1f77b4", 820], ["V (meridional)", "#ff7f0e", 835]].forEach(([t, c, yy]) => {
    lg.append("rect").attr("x", 1446).attr("y", yy).attr("width", 23).attr("height", 8)
      .attr("fill", c).attr("fill-opacity", 0.65).attr("stroke", "#000").attr("stroke-opacity", 0.65).attr("stroke-width", 1.1);
    lg.append("text").attr("x", 1477.3).attr("y", yy + 8).attr("font-size", 11.1).text(t);
  });
}
</script>
</body>
</html>
